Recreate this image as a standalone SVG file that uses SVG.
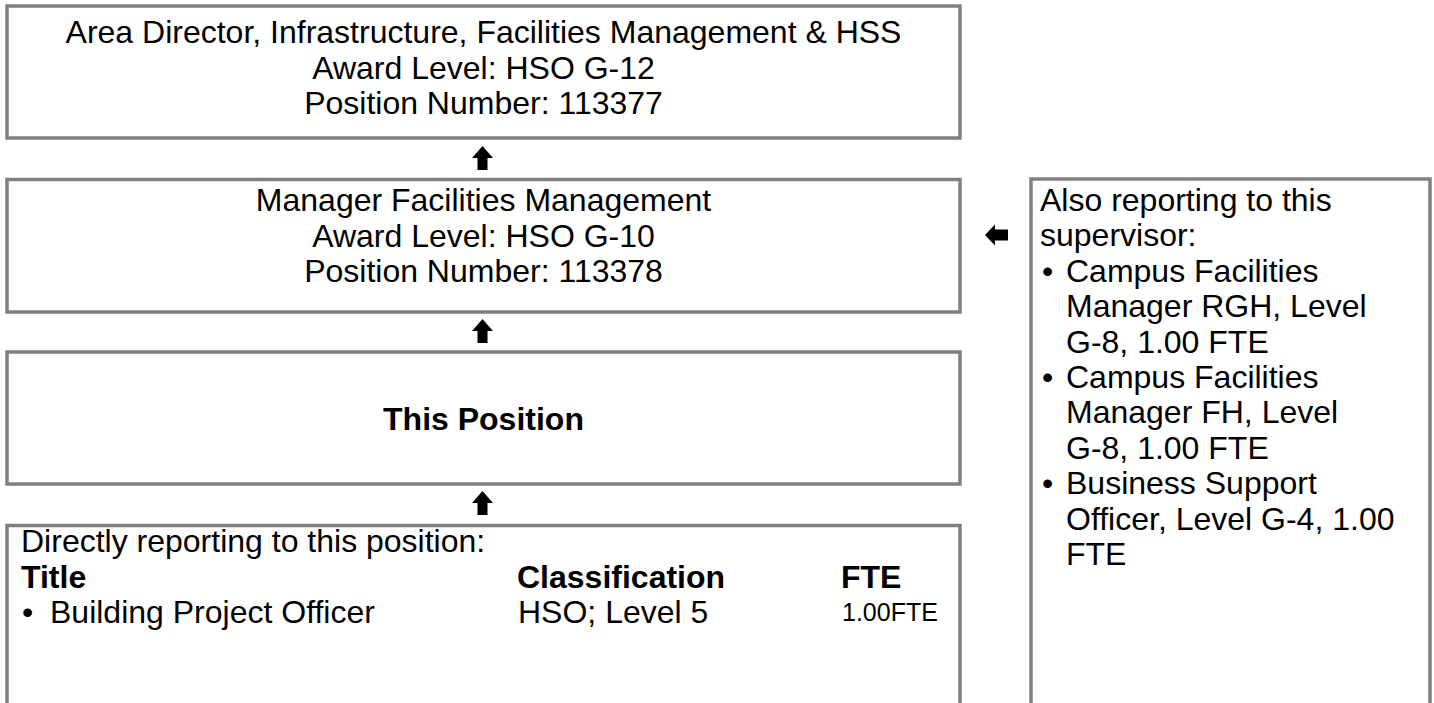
<svg xmlns="http://www.w3.org/2000/svg" width="1434" height="703" viewBox="0 0 1434 703">
<style>
.box{fill:#ffffff;stroke:#808080;stroke-width:3.5}
.t{font-family:"Liberation Sans",Arial,sans-serif;font-size:32px;fill:#000000}
.c{text-anchor:middle}
.b{font-weight:bold}
.s{font-size:25px}
.arr{fill:#000000}
</style>
<rect width="1434" height="703" fill="#ffffff"/>
<g id="node-area-director">
<rect class="box" x="7" y="6" width="953" height="132"/>
<text class="t c" x="483.5" y="43">Area Director, Infrastructure, Facilities Management &amp; HSS</text>
<text class="t c" x="483.5" y="79">Award Level: HSO G-12</text>
<text class="t c" x="483.5" y="114">Position Number: 113377</text>
</g>
<g id="node-manager">
<rect class="box" x="7" y="179.5" width="953" height="132.5"/>
<text class="t c" x="483.5" y="211">Manager Facilities Management</text>
<text class="t c" x="483.5" y="247">Award Level: HSO G-10</text>
<text class="t c" x="483.5" y="282">Position Number: 113378</text>
</g>
<g id="node-this-position">
<rect class="box" x="7" y="352" width="953" height="132"/>
<text class="t c b" x="483.5" y="430">This Position</text>
</g>
<g id="node-direct-reports">
<rect class="box" x="7" y="525.5" width="953" height="200"/>
<text class="t" x="21" y="552">Directly reporting to this position:</text>
<text class="t b" x="21" y="588">Title</text>
<text class="t b" x="517" y="588">Classification</text>
<text class="t b" x="841" y="588">FTE</text>
<text class="t" x="22" y="623">•</text>
<text class="t" x="50" y="623">Building Project Officer</text>
<text class="t" x="518" y="623">HSO; Level 5</text>
<text class="t s" x="842" y="621">1.00FTE</text>
</g>
<g id="node-also-reporting">
<rect class="box" x="1031" y="179" width="399" height="550"/>
<text class="t" x="1040" y="211">Also reporting to this</text>
<text class="t" x="1040" y="246.4">supervisor:</text>
<text class="t" x="1042" y="281.8">•</text>
<text class="t" x="1066" y="281.8">Campus Facilities</text>
<text class="t" x="1066" y="317.2">Manager RGH, Level</text>
<text class="t" x="1066" y="352.6">G-8, 1.00 FTE</text>
<text class="t" x="1042" y="388">•</text>
<text class="t" x="1066" y="388">Campus Facilities</text>
<text class="t" x="1066" y="423.4">Manager FH, Level</text>
<text class="t" x="1066" y="458.8">G-8, 1.00 FTE</text>
<text class="t" x="1042" y="494.2">•</text>
<text class="t" x="1066" y="494.2">Business Support</text>
<text class="t" x="1066" y="529.6">Officer, Level G-4, 1.00</text>
<text class="t" x="1066" y="565">FTE</text>
</g>
<g id="connectors">
<polygon class="arr" points="482.5,146 493,158 487.5,158 487.5,170 477.5,170 477.5,158 472,158"/>
<polygon class="arr" points="482.5,319 493,331 487.5,331 487.5,343 477.5,343 477.5,331 472,331"/>
<polygon class="arr" points="482.5,491 493,503 487.5,503 487.5,515 477.5,515 477.5,503 472,503"/>
<polygon class="arr" points="985,235 995,224.5 995,229.5 1008,229.5 1008,240.5 995,240.5 995,245.5"/>
</g>
</svg>
